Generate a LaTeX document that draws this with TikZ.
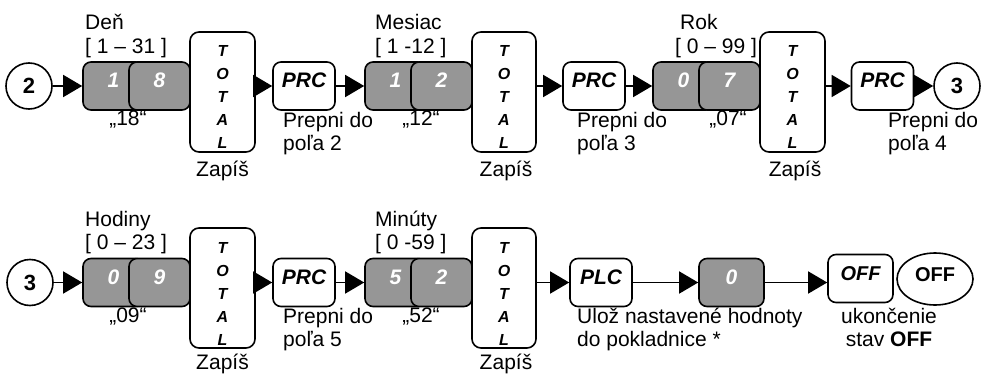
\documentclass[tikz,border=0pt]{standalone}
\usepackage{fontspec}
\setmainfont{Liberation Sans}
\usetikzlibrary{arrows.meta,shapes.geometric}
\definecolor{keygray}{RGB}{150,150,150}

\begin{document}
\begin{tikzpicture}[x=1pt,y=-1pt,
    box/.style={draw, rounded corners=8pt, line width=1.6pt, inner sep=0pt,
        minimum height=48pt, text height=15pt, text depth=11pt,
        font=\fontsize{21}{24}\selectfont\bfseries\itshape},
    key/.style={box, fill=keygray, text=white, minimum width=61pt},
    prc/.style={box, fill=white, minimum width=62pt},
    total/.style={draw, rounded corners=9pt, line width=1.6pt, fill=white, inner sep=0pt,
        minimum width=65pt, minimum height=120pt, align=center, text height=114pt,
        font=\fontsize{16}{23}\selectfont\bfseries\itshape},
    num/.style={circle, draw, line width=1.6pt, minimum size=46pt, inner sep=0pt,
        font=\fontsize{22}{24}\selectfont\bfseries},
    lbl/.style={inner sep=0pt, align=left, anchor=base west, font=\fontsize{21}{23.5}\selectfont},
    arr/.style={line width=1.5pt, -{Triangle[length=19pt,width=22pt]}}]
    \useasboundingbox (0,0) rectangle (981,374);

    % datum: den, mesiac, rok
    \node[num] (c2) at (29,86) {2};
    \node[key] (k11) at (113.5,86) {1};
    \node[key] (k12) at (159.5,86) {8};
    \node[total] (tot1) at (222.5,92) {T\\O\\T\\A\\L};
    \node[prc] (prc1) at (304,86) {PRC};
    \node[key] (k21) at (395.5,86) {1};
    \node[key] (k22) at (441.5,86) {2};
    \node[total, minimum width=64pt] (tot2) at (504,92) {T\\O\\T\\A\\L};
    \node[prc] (prc2) at (594,86) {PRC};
    \node[key] (k31) at (683.5,86) {0};
    \node[key] (k32) at (729.5,86) {7};
    \node[total] (tot3) at (792.5,92) {T\\O\\T\\A\\L};
    \node[prc] (prc3) at (882.5,86) {PRC};
    \node[num] (c3) at (957,86) {3};

    % multi-line labels sit on their last baseline
    \node[lbl] (den) at (85,53.5) {Deň\\{[} 1 – 31 ]};
    \node[lbl] (mes) at (375,53.5) {Mesiac\\{[} 1 -12 ]};
    \node[lbl] (rok) at (675,53.5) {\hspace{5pt}Rok\\{[} 0 – 99 ]};
    \node[lbl, anchor=base] (v18) at (128,126) {„18“};
    \node[lbl, anchor=base] (v12) at (421,126) {„12“};
    \node[lbl, anchor=base] (v07) at (728,126) {„07“};
    \node[lbl] (pr1) at (283,150.5) {Prepni do\\poľa 2};
    \node[lbl] (pr2) at (577,150.5) {Prepni do\\poľa 3};
    \node[lbl] (pr3) at (888,150.5) {Prepni do\\poľa 4};
    \node[lbl, anchor=base] (zap1) at (222.5,176) {Zapíš};
    \node[lbl, anchor=base] (zap2) at (506,176) {Zapíš};
    \node[lbl, anchor=base] (zap3) at (795,176) {Zapíš};

    \draw[arr] (c2) -- (k11);
    \draw[arr] (tot1.east |- prc1) -- (prc1);
    \draw[arr] (prc1) -- (k21);
    \draw[arr] (tot2.east |- prc2) -- (prc2);
    \draw[arr] (prc2) -- (k31);
    \draw[arr] (tot3.east |- prc3) -- (prc3);
    \draw[arr] (prc3) -- (c3);

    % cas: hodiny, minuty
    \node[num] (c3b) at (30,282.5) {3};
    \node[key] (k41) at (113.5,282.5) {0};
    \node[key] (k42) at (159.5,282.5) {9};
    \node[total] (tot4) at (222.5,288) {T\\O\\T\\A\\L};
    \node[prc] (prc4) at (304,282.5) {PRC};
    \node[key] (k51) at (395.5,282.5) {5};
    \node[key] (k52) at (441.5,282.5) {2};
    \node[total, minimum width=64pt] (tot5) at (504,288) {T\\O\\T\\A\\L};
    \node[prc] (plc) at (601,282.5) {PLC};
    \node[key, minimum width=65pt] (key0) at (731.5,282.5) {0};
    \node[prc, minimum width=65pt, text height=14.5pt, text depth=10pt,
        font=\fontsize{20}{22}\selectfont\bfseries\itshape] (offkey) at (860.5,278.5) {OFF};
    \node[ellipse, draw, line width=1.6pt, minimum width=76pt, minimum height=52pt,
        inner sep=0pt, text depth=8pt, font=\fontsize{20}{22}\selectfont\bfseries] (offell) at (935,279) {OFF};

    \node[lbl] (hod) at (85,249.5) {Hodiny\\{[} 0 – 23 ]};
    \node[lbl] (minu) at (375,249.5) {Minúty\\{[} 0 -59 ]};
    \node[lbl, anchor=base] (v09) at (128,322) {„09“};
    \node[lbl, anchor=base] (v52) at (421,322) {„52“};
    \node[lbl] (pr4) at (283,346.5) {Prepni do\\poľa 5};
    \node[lbl] (uloz) at (577,346.5) {Ulož nastavené hodnoty\\do pokladnice *};
    \node[lbl, align=center, anchor=base] (ukon) at (889,346.5) {ukončenie\\stav \textbf{OFF}};
    \node[lbl, anchor=base] (zap4) at (222.5,369) {Zapíš};
    \node[lbl, anchor=base] (zap5) at (506,369) {Zapíš};

    \draw[arr] (c3b) -- (k41);
    \draw[arr] (tot4.east |- prc4) -- (prc4);
    \draw[arr] (prc4) -- (k51);
    \draw[arr] (tot5.east |- plc) -- (plc);
    \draw[arr] (plc) -- (key0);
    \draw[arr] (key0) -- (key0 -| offkey.west);
\end{tikzpicture}
\end{document}
